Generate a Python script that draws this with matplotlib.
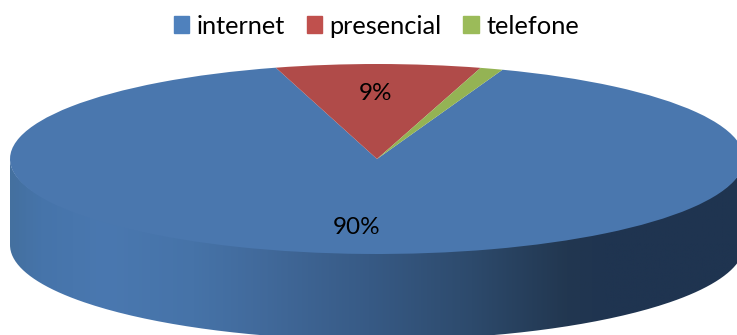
import numpy as np
import matplotlib
matplotlib.use("Agg")
import matplotlib.pyplot as plt
from matplotlib.colors import LinearSegmentedColormap
from matplotlib.patches import Patch, PathPatch
from matplotlib.path import Path

plt.rcParams['font.family'] = ['Lato', 'DejaVu Sans']

categories = ['internet', 'presencial', 'telefone']
values = [90, 9, 1]
labels = ['90%', '9%', '']
top_colors = ['#4a77ae', '#b04b49', '#94b354']
legend_colors = ['#4f81bd', '#c0504d', '#9bbb59']

# side wall shading, left to right across the disc
wall_stops = [0.0, 0.04, 0.13, 0.25, 0.35, 0.49, 0.63, 0.76, 0.81, 1.0]
wall_colors = ['#44709f', '#4674aa', '#4a78b0', '#4673a8', '#41699a',
               '#375a85', '#2d4a6c', '#223750', '#1f3450', '#1f3450']

W, H = 737, 335
cx, cy = 377, 159
rx, ry = 367, 95
depth = 86 / ry

fig = plt.figure(figsize=(W / 100, H / 100), dpi=100)
ax = fig.add_axes([0, 0, 1, 1])

# disc top, first slice starts 20 degrees clockwise from twelve o'clock
wedges, _ = ax.pie(values, colors=top_colors, startangle=70, counterclock=False,
                   radius=1, wedgeprops={'linewidth': 0})
ax.set_aspect('auto')
ax.axis('off')

# side wall: lower half of the rim swept down by the depth,
# upper edge tucked under the disc so no seam shows
t = np.linspace(np.pi, 2 * np.pi, 200)
rim_x, rim_y = np.cos(t), np.sin(t)
wall_xy = np.vstack([np.column_stack([rim_x, rim_y * 0.97]),
                     np.column_stack([rim_x[::-1], rim_y[::-1] - depth]),
                     [[rim_x[0], rim_y[0]]]])
wall_clip = PathPatch(Path(wall_xy), transform=ax.transData, fc='none', ec='none')
ax.add_patch(wall_clip)
cmap = LinearSegmentedColormap.from_list('wall', list(zip(wall_stops, wall_colors)))
shade = ax.imshow(np.linspace(0, 1, 256)[None, :], cmap=cmap, aspect='auto',
                  extent=(-1, 1, -1 - depth, 0.1), zorder=0)
shade.set_clip_path(wall_clip)
ax.set_xlim(-cx / rx, (W - cx) / rx)
ax.set_ylim((cy - H) / ry, cy / ry)

ax.text((357 - cx) / rx, (cy - 228) / ry, labels[0], fontsize=17.5, color='black',
        ha='center', va='center', zorder=5)
ax.text((376 - cx) / rx, (cy - 94) / ry, labels[1], fontsize=17.5, color='black',
        ha='center', va='center', zorder=5)

handles = [Patch(color=c, label=n) for c, n in zip(legend_colors, categories)]
fig.legend(handles=handles, ncol=3, frameon=False, fontsize=18.3,
           loc='center', bbox_to_anchor=(376.5 / W, 1 - 26 / H),
           handlelength=0.6, handleheight=0.6, handletextpad=0.3,
           columnspacing=0.85, borderpad=0)

fig.savefig('out.png', dpi=100)
